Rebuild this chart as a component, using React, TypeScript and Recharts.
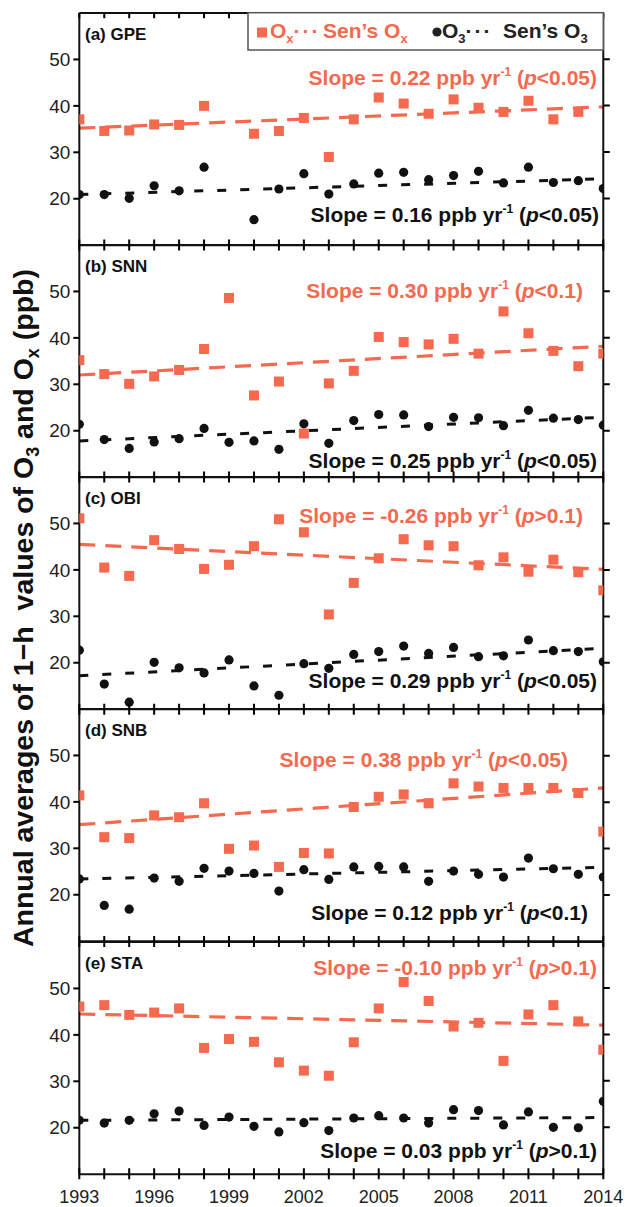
import React from "react";
import { ComposedChart, Scatter, Line, XAxis, YAxis, ReferenceLine } from "recharts";

const years = [1993, 1994, 1995, 1996, 1997, 1998, 1999, 2000, 2001, 2002, 2003, 2004, 2005, 2006, 2007, 2008, 2009, 2010, 2011, 2012, 2013, 2014];
const yTicks = [20, 30, 40, 50];
const sites = ["(a) GPE", "(b) SNN", "(c) OBI", "(d) SNB", "(e) STA"];

const oxGPE = [37.1, 34.6, 34.7, 36.0, 35.9, 40.0, null, 34.0, 34.6, 37.4, 29.0, 37.1, 41.8, 40.5, 38.3, 41.4, 39.6, 38.7, 41.1, 37.1, 38.7, null];
const o3GPE = [20.9, 20.9, 20.1, 22.8, 21.7, 26.8, null, 15.5, 22.1, 25.4, 21.0, 23.2, 25.5, 25.7, 24.1, 25.0, 25.9, 23.4, 26.8, 23.5, 23.9, 22.2];
const oxSNN = [35.2, 32.2, 30.1, 31.7, 33.1, 37.6, 48.6, 27.6, 30.6, 19.4, 30.2, 32.9, 40.2, 39.1, 38.6, 39.8, 36.6, 45.7, 41.0, 37.2, 33.9, 36.6];
const o3SNN = [21.4, 18.1, 16.2, 17.6, 18.3, 20.5, 17.5, 17.8, 16.0, 21.5, 17.3, 22.2, 23.5, 23.4, 20.9, 22.9, 22.8, 21.1, 24.4, 22.7, 22.4, 21.2];
const oxOBI = [51.1, 40.5, 38.7, 46.4, 44.5, 40.2, 41.1, 45.1, 50.9, 48.1, 30.4, 37.2, 42.5, 46.6, 45.3, 45.1, 41.0, 42.7, 39.6, 42.2, 39.5, 35.6];
const o3OBI = [22.7, 15.4, 11.5, 20.1, 18.9, 17.8, 20.6, 15.0, 13.0, 19.8, 18.8, 21.8, 22.4, 23.6, 22.0, 23.3, 21.3, 21.5, 24.9, 22.6, 22.4, 20.2];
const oxSNB = [41.4, 32.4, 32.2, 37.1, 36.7, 39.7, 29.9, 30.6, 26.0, 29.0, 28.9, 38.9, 41.1, 41.6, 39.7, 44.0, 43.3, 43.0, 43.0, 43.0, 41.9, 33.6];
const o3SNB = [23.4, 17.7, 16.9, 23.6, 22.9, 25.7, 25.1, 24.6, 20.8, 25.4, 23.3, 26.0, 26.1, 26.0, 22.9, 25.1, 24.4, 23.8, 27.9, 25.6, 24.4, 23.8];
const oxSTA = [46.1, 46.4, 44.3, 44.8, 45.7, 37.2, 39.1, 38.5, 34.1, 32.3, 31.2, 38.4, 45.7, 51.4, 47.3, 41.8, 42.6, 34.4, 44.4, 46.4, 42.9, 36.8];
const o3STA = [21.6, 21.0, 21.6, 23.0, 23.6, 20.5, 22.3, 20.3, 19.1, 21.1, 19.4, 22.1, 22.6, 22.1, 21.0, 23.9, 23.7, 20.6, 23.4, 20.1, 20.0, 25.7];

// Sen's trend line values at 1993 and 2014
const oxSenStart = [35.2, 32.0, 45.5, 35.1, 44.5];
const oxSenEnd = [39.8, 38.2, 40.1, 43.0, 42.1];
const o3SenStart = [20.9, 17.8, 17.2, 23.4, 21.6];
const o3SenEnd = [24.3, 22.9, 23.1, 25.9, 22.2];

const oxSlope = ["0.22", "0.30", "-0.26", "0.38", "-0.10"];
const oxP = ["<0.05", "<0.1", ">0.1", "<0.05", ">0.1"];
const o3Slope = ["0.16", "0.25", "0.29", "0.12", "0.03"];
const o3P = ["<0.05", "<0.05", "<0.05", "<0.1", ">0.1"];

const oxSeries = [oxGPE, oxSNN, oxOBI, oxSNB, oxSTA];
const o3Series = [o3GPE, o3SNN, o3OBI, o3SNB, o3STA];

// layout
const RED = "#F5694E";
const BLK = "#111";
const FONT = '"Liberation Sans", Arial, Helvetica, sans-serif';
const TOP0 = 12.7;
const PH = 232.2;
const PLOT_L = 79.3;
const PLOT_R = 603.3;
const Y_MIN = 10;
const Y_MAX = 60;
const X_MIN = 1993;
const X_MAX = 2014;
const redText = [[72, 597], [53, 583], [46, 583], [58, 568], [33, 597]];
const blkText = [[209, 599], [223, 597], [211, 597], [211, 588], [216, 597]];

const Square = (p: any) => <rect x={p.cx - 5} y={p.cy - 5} width={10} height={10} fill={RED} />;
const Dot = (p: any) => <circle cx={p.cx} cy={p.cy} r={4.6} fill={BLK} />;

const YearLabel = (p: any) => {
  const v = p.payload.value;
  if ((v - X_MIN) % 3 !== 0) return <g />;
  return (
    <text x={p.x} y={p.y} dy={29} textAnchor="middle" fontSize={18} fill="#222" fontFamily={FONT}>
      {v}
    </text>
  );
};

const Panel = ({ idx }: { idx: number }) => {
  const last = idx === 4;
  const rows = years.map((year, i) => ({ year, ox: oxSeries[idx][i], o3: o3Series[idx][i] }));
  const oxPts = rows.filter((r) => r.ox != null);
  const o3Pts = rows.filter((r) => r.o3 != null);
  const oxTrend = [
    { year: X_MIN, v: oxSenStart[idx] },
    { year: X_MAX, v: oxSenEnd[idx] },
  ];
  const o3Trend = [
    { year: X_MIN, v: o3SenStart[idx] },
    { year: X_MAX, v: o3SenEnd[idx] },
  ];
  const top = TOP0 + idx * PH;
  return (
    <div style={{ position: "absolute", left: 0, top: top - 10 }}>
      <ComposedChart
        width={626}
        height={PH + 10 + (last ? 33 : 10)}
        data={rows}
        margin={{ top: 10, right: 626 - PLOT_R - 1, bottom: last ? 3 : 9, left: PLOT_L - 60 }}
      >
        <XAxis xAxisId="b" dataKey="year" type="number" domain={[X_MIN, X_MAX]} ticks={years} interval={0}
          allowDataOverflow height={last ? 30 : 1} tickSize={0} tickMargin={0} tick={last ? YearLabel : false}
          axisLine={false} tickLine={false} />
        <YAxis yAxisId="l" type="number" domain={[Y_MIN, Y_MAX]} ticks={yTicks} allowDataOverflow width={60}
          tickSize={6} tickMargin={3} tick={{ fontSize: 19, fill: "#222", fontFamily: FONT }}
          axisLine={{ stroke: BLK, strokeWidth: 2 }} tickLine={{ stroke: "#000", strokeWidth: 2 }} />
        <YAxis yAxisId="r" orientation="right" type="number" domain={[Y_MIN, Y_MAX]} ticks={yTicks} allowDataOverflow
          width={1} tick={false} tickLine={false} axisLine={{ stroke: BLK, strokeWidth: 2 }} />
        <ReferenceLine xAxisId="b" yAxisId="l" y={Y_MAX} stroke={BLK} strokeWidth={2} ifOverflow="visible" />
        <ReferenceLine xAxisId="b" yAxisId="l" y={Y_MIN} stroke={BLK} strokeWidth={2} ifOverflow="visible" />
        <Line xAxisId="b" yAxisId="l" data={oxTrend} dataKey="v" stroke={RED} strokeWidth={3.2}
          strokeDasharray="16 10" dot={false} isAnimationActive={false} />
        <Line xAxisId="b" yAxisId="l" data={o3Trend} dataKey="v" stroke={BLK} strokeWidth={3}
          strokeDasharray="9 14" dot={false} isAnimationActive={false} />
        <Scatter xAxisId="b" yAxisId="l" data={oxPts} dataKey="ox" shape={Square} isAnimationActive={false} />
        <Scatter xAxisId="b" yAxisId="l" data={o3Pts} dataKey="o3" shape={Dot} isAnimationActive={false} />
      </ComposedChart>
    </div>
  );
};

// tick marks of the stacked frames (year ticks on every edge, y ticks on the right side)
const tickPath = () => {
  const xs = years.map((yr) => PLOT_L + ((yr - X_MIN) * (PLOT_R - PLOT_L)) / (X_MAX - X_MIN));
  let d = "";
  for (let k = 0; k <= 5; k++) {
    const y = TOP0 + k * PH;
    xs.forEach((x) => {
      d += k === 0 ? `M${x},${y}v5.5` : `M${x},${y - 5.5}v11`;
    });
  }
  for (let k = 0; k < 5; k++) {
    yTicks.forEach((v) => {
      const y = TOP0 + k * PH + ((Y_MAX - v) * PH) / (Y_MAX - Y_MIN);
      d += `M${PLOT_R},${y}h6.5`;
    });
  }
  return d;
};

const SlopeText = ({ x, y, color, slope, p }: any) => (
  <text x={x} y={y} textAnchor="end" fill={color} fontSize={21} fontWeight="bold" fontFamily={FONT}>
    {`Slope = ${slope} ppb yr`}
    <tspan fontSize={12} dy={-9}>-1</tspan>
    <tspan dy={9}>{" ("}</tspan>
    <tspan fontStyle="italic">p</tspan>
    <tspan>{`${p})`}</tspan>
  </text>
);

const Overlay = () => (
  <svg width={626} height={1207} style={{ position: "absolute", left: 0, top: 0, pointerEvents: "none" }}>
    <path d={tickPath()} stroke="#000" strokeWidth={2} fill="none" />
    <g fontFamily={FONT} fontWeight="bold">
      {/* legend */}
      <rect x={248} y={TOP0} width={PLOT_R - 248} height={37.3} fill="#fff" stroke="#555" strokeWidth={1.5} />
      <rect x={257} y={27.5} width={10} height={10} fill={RED} />
      <text x={270} y={38} fontSize={21} fill={RED}>
        O<tspan fontSize={13} dy={5}>x</tspan>
        <tspan dy={-5} letterSpacing={2}>{"\u00b7\u00b7\u00b7"}</tspan>
      </text>
      <text x={323} y={38} fontSize={21} fill={RED}>
        {"Sen\u2019s O"}<tspan fontSize={13} dy={5}>x</tspan>
      </text>
      <circle cx={437} cy={32} r={4.6} fill="#222" />
      <text x={442} y={38} fontSize={21} fill="#222">
        O<tspan fontSize={13} dy={5}>3</tspan>
        <tspan dy={-5} letterSpacing={2}>{"\u00b7\u00b7\u00b7"}</tspan>
      </text>
      <text x={503} y={38} fontSize={21} fill="#222">
        {"Sen\u2019s O"}<tspan fontSize={13} dy={5}>3</tspan>
      </text>

      {sites.map((s, i) => {
        const top = TOP0 + i * PH;
        return (
          <g key={s}>
            <text x={85} y={top + 27} fontSize={17} fill={BLK}>{s}</text>
            <SlopeText x={redText[i][1]} y={top + redText[i][0]} color={RED} slope={oxSlope[i]} p={oxP[i]} />
            <SlopeText x={blkText[i][1]} y={top + blkText[i][0]} color={BLK} slope={o3Slope[i]} p={o3P[i]} />
          </g>
        );
      })}

      {/* y-axis title */}
      <text transform="translate(33, 608) rotate(-90)" textAnchor="middle" fontSize={28.5} fill={BLK} xmlSpace="preserve">
        {"Annual averages of 1\u2212h  values of O"}
        <tspan fontSize={18} dy={6}>3</tspan>
        <tspan dy={-6}>{" and O"}</tspan>
        <tspan fontSize={18} dy={6}>x</tspan>
        <tspan dy={-6}>{" (ppb)"}</tspan>
      </text>
    </g>
  </svg>
);

export default function App() {
  return (
    <div style={{ position: "absolute", left: 0, top: 0, width: 626, height: 1207, background: "#fff", overflow: "hidden" }}>
      {[0, 1, 2, 3, 4].map((i) => (
        <Panel key={i} idx={i} />
      ))}
      <Overlay />
    </div>
  );
}
